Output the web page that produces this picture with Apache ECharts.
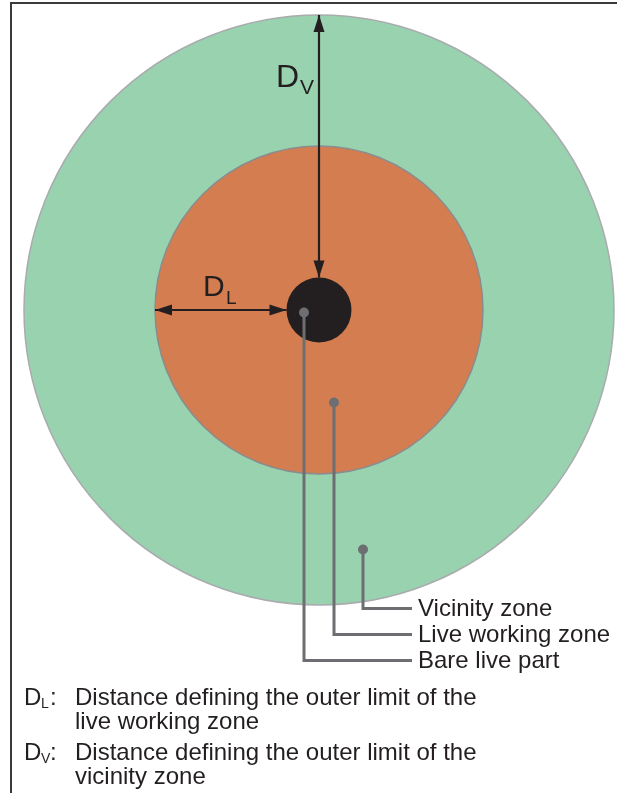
<!DOCTYPE html>
<html>
<head>
<meta charset="utf-8">
<script src="https://cdn.jsdelivr.net/npm/echarts@6/dist/echarts.min.js"></script>
<style>
html,body{margin:0;padding:0;background:#fff;}
#chart{width:617px;height:793px;}
</style>
</head>
<body>
<div id="chart"></div>
<script>
// ---- data (units: drawing units, centre of the live part = 0,0, y up) ----
const zoneNames = ['Vicinity zone', 'Live working zone', 'Bare live part'];
const zoneRadii = [295, 164, 32.5];
// callout anchor dots [x, y]
const calloutDotX = [44, 15, -15];
const calloutDotY = [-239.5, -92.5, -2.5];
// height of the horizontal leader of each callout
const calloutLeaderY = [-298.5, -324.5, -350.5];
const calloutEndX = [93, 93, 93];
const noteSymbols = [['D', 'L'], ['D', 'V']];
const noteTexts = [
  ['Distance defining the outer limit of the', 'live working zone'],
  ['Distance defining the outer limit of the', 'vicinity zone']
];

// ---- styles ----
const zoneFill = ['#99D2AF', '#D47D50', '#231F20'];
const zoneStroke = ['#A9ABAE', '#8A8C8E', null];
const TXT = '#231F20';
const GREY = '#6D6E71';
const FONT = '"Liberation Sans", Arial, Helvetica, sans-serif';

const chart = echarts.init(document.getElementById('chart'), null, {renderer: 'canvas'});

const zoneData = zoneRadii.map((r, i) => ({name: zoneNames[i], value: [r]}));
const calloutData = zoneNames.map((n, i) => ({
  name: n, value: [calloutDotX[i], calloutDotY[i], calloutLeaderY[i], calloutEndX[i]]
}));
// dimension arrows, derived from the zone radii
const arrowData = [
  {name: 'V', value: [0, zoneRadii[0], 0, zoneRadii[2]]},
  {name: 'L', value: [-zoneRadii[1], 0, -zoneRadii[2], 0]}
];

function arrowHead(tip, from, len, half) {
  const dx = tip[0] - from[0], dy = tip[1] - from[1];
  const d = Math.sqrt(dx * dx + dy * dy);
  const ux = dx / d, uy = dy / d;
  const bx = tip[0] - ux * len, by = tip[1] - uy * len;
  return {
    type: 'polygon',
    shape: {points: [tip, [bx - uy * half, by + ux * half], [bx + uy * half, by - ux * half]]},
    style: {fill: '#231F20'}
  };
}

const option = {
  animation: false,
  grid: {left: 0, right: 0, top: 0, bottom: 0},
  xAxis: {type: 'value', min: -319, max: 298, show: false},
  yAxis: {type: 'value', min: -483, max: 310, show: false},
  series: [
    {
      type: 'custom',
      data: zoneData,
      renderItem: function (params, api) {
        const c = api.coord([0, 0]);
        const r = api.size([api.value(0), 0])[0];
        const i = params.dataIndex;
        return {
          type: 'circle',
          shape: {cx: c[0], cy: c[1], r: r},
          style: {fill: zoneFill[i], stroke: zoneStroke[i], lineWidth: zoneStroke[i] ? 1.5 : 0}
        };
      },
      z: 1
    },
    {
      type: 'custom',
      data: arrowData,
      renderItem: function (params, api) {
        const a = api.coord([api.value(0), api.value(1)]);
        const b = api.coord([api.value(2), api.value(3)]);
        return {
          type: 'group',
          children: [
            {type: 'line', shape: {x1: a[0], y1: a[1], x2: b[0], y2: b[1]}, style: {stroke: '#231F20', lineWidth: 2.2}},
            arrowHead(a, b, 17, 5.5),
            arrowHead(b, a, 17, 5.5)
          ]
        };
      },
      z: 2
    },
    {
      type: 'custom',
      data: calloutData,
      renderItem: function (params, api) {
        const p = api.coord([api.value(0), api.value(1)]);
        const e = api.coord([api.value(0), api.value(2)]);
        const end = api.coord([api.value(3), api.value(2)]);
        return {
          type: 'group',
          children: [
            {type: 'polyline', shape: {points: [p, e, end]}, style: {stroke: GREY, lineWidth: 3, fill: null}},
            {type: 'circle', shape: {cx: p[0], cy: p[1], r: 5}, style: {fill: GREY}},
            {type: 'text', x: end[0] + 6, y: end[1] + 1,
              style: {text: zoneNames[params.dataIndex], font: '24px ' + FONT, fill: TXT, align: 'left', verticalAlign: 'middle'}}
          ]
        };
      },
      z: 3
    }
  ],
  graphic: []
};

const g = [];
// frame
g.push({type: 'polyline', z: 100, shape: {points: [[11, 793], [11, 3], [617, 3]]}, style: {stroke: '#3A3A3A', lineWidth: 2, fill: null}, silent: true});
// dimension labels
g.push({type: 'text', z: 100, x: 276, y: 78, style: {text: 'D', font: '32px ' + FONT, fill: TXT, verticalAlign: 'middle'}});
g.push({type: 'text', z: 100, x: 300, y: 88, style: {text: 'V', font: '21px ' + FONT, fill: TXT, verticalAlign: 'middle'}});
g.push({type: 'text', z: 100, x: 203, y: 288, style: {text: 'D', font: '30px ' + FONT, fill: TXT, verticalAlign: 'middle'}});
g.push({type: 'text', z: 100, x: 226, y: 299, style: {text: 'L', font: '19px ' + FONT, fill: TXT, verticalAlign: 'middle'}});
// notes
const noteY = [[698, 722], [753, 777]];
noteSymbols.forEach((s, i) => {
  g.push({type: 'text', z: 100, x: 24, y: noteY[i][0], style: {text: s[0], font: '24px ' + FONT, fill: TXT, verticalAlign: 'middle'}});
  g.push({type: 'text', z: 100, x: 41, y: noteY[i][0] + 6, style: {text: s[1], font: '14px ' + FONT, fill: TXT, verticalAlign: 'middle'}});
  g.push({type: 'text', z: 100, x: 50, y: noteY[i][0], style: {text: ':', font: '24px ' + FONT, fill: TXT, verticalAlign: 'middle'}});
  noteTexts[i].forEach((t, j) => {
    g.push({type: 'text', z: 100, x: 75, y: noteY[i][j], style: {text: t, font: '24px ' + FONT, fill: TXT, verticalAlign: 'middle'}});
  });
});
option.graphic = g;

chart.setOption(option);
</script>
</body>
</html>
